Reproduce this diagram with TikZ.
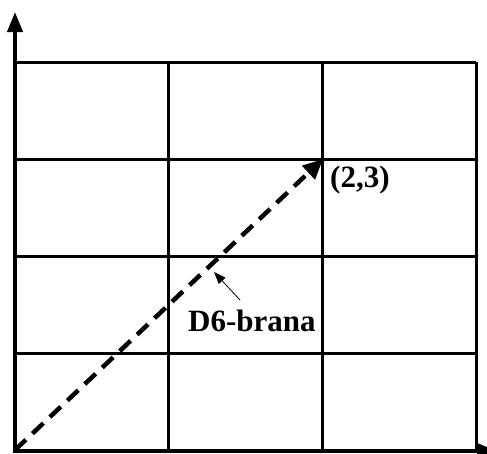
\documentclass[tikz,border=0pt]{standalone}
\usepackage{fontspec}
\setmainfont{Liberation Serif}
\usetikzlibrary{arrows.meta}
\tikzset{
  gridline/.style={line width=3pt},
  axisline/.style={line width=4pt,-{Triangle[length=20pt,width=15pt]}},
  branaline/.style={line width=4.5pt,dash pattern=on 15pt off 9pt,-{Triangle[length=20pt,width=18pt]}},
  pointer/.style={line width=0.8pt,-{Triangle[length=12pt,width=9pt]}},
  lbl/.style={font=\bfseries\fontsize{31}{31}\selectfont,inner sep=0pt}
}
\begin{document}
\begin{tikzpicture}[x=1pt,y=-1pt]
\useasboundingbox (0,0) rectangle (487,453);
\fill[white] (0,0) rectangle (487,453);
% grid
\foreach \x in {168,322,476} \draw[gridline] (\x,62) -- (\x,451);
\foreach \y in {62,159,256,353} \draw[gridline] (15,\y) -- (476,\y);
% axes
\coordinate (orig) at (15,451);
\coordinate (ytip) at (15,12);
\coordinate (xtip) at (497,451);
\draw[axisline] ([yshift=2pt]orig) -- (ytip);
\draw[axisline] ([xshift=-2pt]orig) -- (xtip);
% brane
\coordinate (start) at (15,450);
\coordinate (pt) at (323,159);
\draw[branaline] (start) -- (pt);
\node[lbl,anchor=north west] (l23) at (330,166) {(2,3)};
\node[lbl,anchor=base west] (brana) at (188,331) {D6-brana};
\coordinate (ptail) at (240,300);
\coordinate (phead) at (214,272);
\draw[pointer] (ptail) -- (phead);
\end{tikzpicture}
\end{document}
